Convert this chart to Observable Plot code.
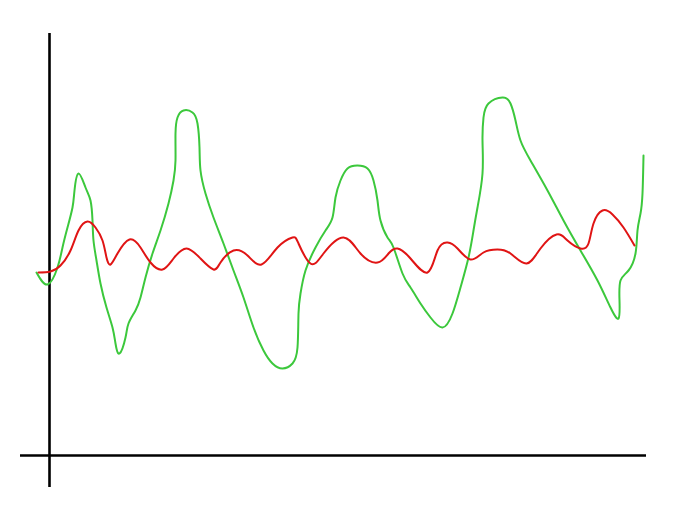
<!DOCTYPE html>
<html>
<head>
<meta charset="utf-8">
<script src="https://cdn.jsdelivr.net/npm/d3@7"></script>
<script src="https://cdn.jsdelivr.net/npm/@observablehq/plot@0.6"></script>
<style>
  html, body { margin: 0; padding: 0; background: #fff; }
  #chart svg { display: block; }
</style>
</head>
<body>
<div id="chart"></div>
<script>
// Green series (traced, x/y in chart units; axes cross at 0,0)
const greenX = [-13,-2,8,13,18,23,25,29,36,41,43,44,47,51,57,63,66,70,76,79,86,91,96,103,111,119,124,126,126,128,134,143,148,150,151,156,164,174,184,194,204,214,223,233,243,248,249,251,256,266,276,283,286,291,298,308,318,324,328,331,338,344,353,361,371,381,393,403,411,419,424,428,433,433,434,439,453,461,466,471,481,498,514,531,548,561,569,570,571,579,586,588,591,593,594];
const greenY = [183,171,188,208,228,248,265,282,268,255,235,215,195,172,148,128,112,102,118,132,145,158,178,202,225,252,275,295,322,338,345,343,332,308,285,262,238,212,185,158,128,105,92,87,92,108,142,162,185,208,225,238,258,275,287,290,287,275,255,235,218,208,182,168,152,138,128,142,168,198,225,248,282,315,338,352,358,352,335,315,295,265,235,205,175,148,137,155,175,185,202,225,242,262,300];
// Red series
const redX = [-11,1,11,21,29,38,46,53,57,61,68,80,91,101,113,124,137,151,164,171,184,198,212,228,243,249,261,274,294,311,328,339,348,361,378,388,398,408,421,434,448,461,477,491,507,518,531,539,544,553,563,574,585];
const redY = [183,184,190,205,225,234,228,215,198,191,202,216,208,193,186,197,207,197,186,193,205,200,191,208,218,212,192,202,218,202,193,202,207,197,183,205,213,207,196,203,206,202,192,207,221,215,207,212,232,245,241,228,210];
// Axis extents (chart units)
const xAxisExtent = [-29, 597];
const yAxisExtent = [-32, 422];

const green = greenX.map((x, i) => ({x, y: greenY[i]}));
const red = redX.map((x, i) => ({x, y: redY[i]}));

const chart = Plot.plot({
  width: 678,
  height: 515,
  margin: 0,
  x: {domain: [-49, 629], axis: null},
  y: {domain: [-60, 455], axis: null},
  marks: [
    Plot.ruleY([0], {x1: xAxisExtent[0], x2: xAxisExtent[1], stroke: "#000", strokeWidth: 2.6}),
    Plot.ruleX([0], {y1: yAxisExtent[0], y2: yAxisExtent[1], stroke: "#000", strokeWidth: 2.6}),
    Plot.line(green, {x: "x", y: "y", curve: "natural", stroke: "#3cc83c", strokeWidth: 2}),
    Plot.line(red, {x: "x", y: "y", curve: "natural", stroke: "#e01414", strokeWidth: 2})
  ]
});
document.getElementById("chart").appendChild(chart);
</script>
</body>
</html>
